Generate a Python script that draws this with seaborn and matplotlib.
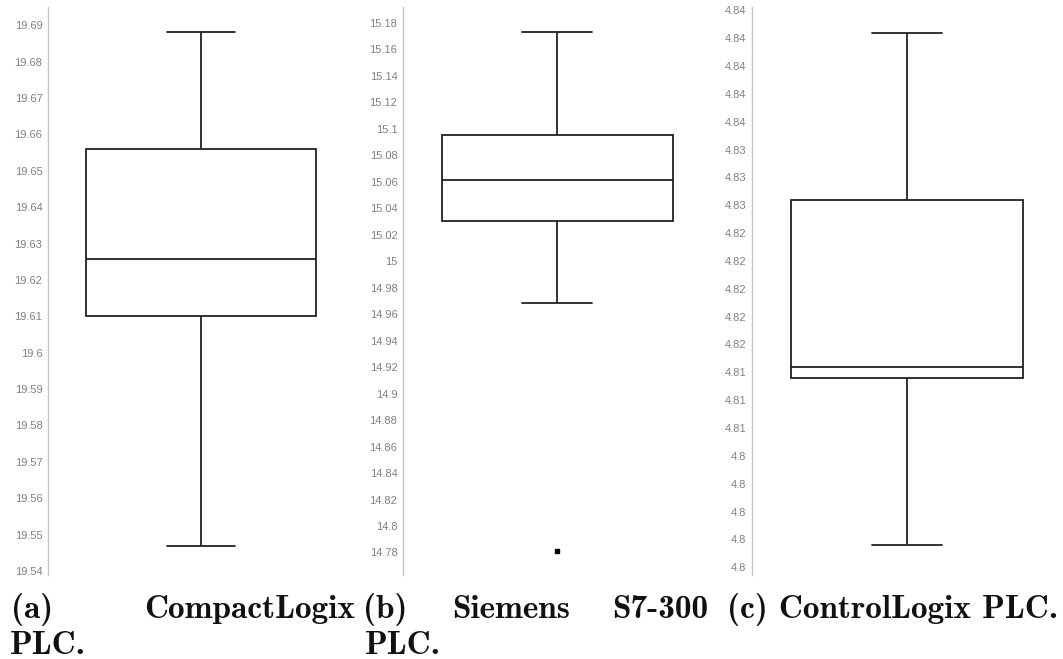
import numpy as np
import pandas as pd
import seaborn as sns
import matplotlib.pyplot as plt

# raw samples (min / q1 / median / q3 / max, plus the outlier of panel b)
compact_vals = [19.547, 19.610, 19.6257, 19.656, 19.688]
siemens_vals = [14.781, 14.9685, 15.0306, 15.05, 15.061, 15.08, 15.095, 15.13, 15.173]
control_vals = [4.797, 4.812, 4.813, 4.828, 4.843]

# y ticks and their labels as printed in the figure
compact_ticks = [19.54, 19.55, 19.56, 19.57, 19.58, 19.59, 19.60, 19.61,
                 19.62, 19.63, 19.64, 19.65, 19.66, 19.67, 19.68, 19.69]
compact_labels = ['19.54', '19.55', '19.56', '19.57', '19.58', '19.59', '19.6', '19.61',
                  '19.62', '19.63', '19.64', '19.65', '19.66', '19.67', '19.68', '19.69']
siemens_ticks = [14.78, 14.80, 14.82, 14.84, 14.86, 14.88, 14.90, 14.92, 14.94, 14.96, 14.98,
                 15.00, 15.02, 15.04, 15.06, 15.08, 15.10, 15.12, 15.14, 15.16, 15.18]
siemens_labels = ['14.78', '14.8', '14.82', '14.84', '14.86', '14.88', '14.9', '14.92', '14.94',
                  '14.96', '14.98', '15', '15.02', '15.04', '15.06', '15.08', '15.1', '15.12',
                  '15.14', '15.16', '15.18']
control_ticks = [4.795 + 0.0025 * i for i in range(21)]
control_labels = ['4.8'] * 5 + ['4.81'] * 3 + ['4.82'] * 5 + ['4.83'] * 3 + ['4.84'] * 5

W, H = 1063, 659
fig = plt.figure(figsize=(W / 100, H / 100), dpi=100)
sns.set_style('white')

panels = [
    (compact_vals, compact_ticks, compact_labels, (19.5389, 19.695), 48, 306),
    (siemens_vals, siemens_ticks, siemens_labels, (14.763, 15.192), 403, 308),
    (control_vals, control_ticks, control_labels, (4.7943, 4.8453), 752, 310),
]

top_px, bot_px = 7, 575
for vals, ticks, labels, lim, left, width in panels:
    ax = fig.add_axes([left / W, 1 - bot_px / H, width / W, (bot_px - top_px) / H])
    df = pd.DataFrame({'value': vals})
    sns.boxplot(data=df, y='value', ax=ax, width=0.75, color='white',
                linecolor='#222222', linewidth=1.3, capwidths=0.225,
                flierprops=dict(marker='s', markersize=2.2, markerfacecolor='black',
                                markeredgecolor='black'))
    ax.set_ylim(*lim)
    ax.set_xlim(-0.5, 0.5)
    ax.set_yticks(ticks)
    ax.set_yticklabels(labels)
    ax.set_ylabel('')
    ax.set_xlabel('')
    ax.set_xticks([])
    for s in ['top', 'right', 'bottom']:
        ax.spines[s].set_visible(False)
    ax.spines['left'].set_color('#c4c4c4')
    ax.spines['left'].set_linewidth(1.0)
    ax.tick_params(axis='y', direction='out', length=3, width=0.8, color='#b0b0b0',
                   labelcolor='#808080', labelsize=8, pad=1)
    for t in ax.get_yticklabels():
        t.set_fontfamily('Liberation Sans')

# sub-figure captions (justified like the LaTeX original)
cap = dict(fontfamily='cmb10', fontsize=24, color='#111111', va='center')
y1, y2 = 1 - 610 / H, 1 - 645 / H
fig.text(11 / W, y1, '(a)', ha='left', **cap)
fig.text(355 / W, y1, 'CompactLogix', ha='right', **cap)
fig.text(10 / W, y2, 'PLC.', ha='left', **cap)
fig.text(363 / W, y1, '(b)', ha='left', **cap)
fig.text(511 / W, y1, 'Siemens', ha='center', **cap)
fig.text(708 / W, y1, 'S7-300', ha='right', **cap)
fig.text(365 / W, y2, 'PLC.', ha='left', **cap)
fig.text(1058 / W, y1, '(c) ControlLogix PLC.', ha='right', **cap)

fig.savefig('out.png', dpi=100, facecolor='white')
